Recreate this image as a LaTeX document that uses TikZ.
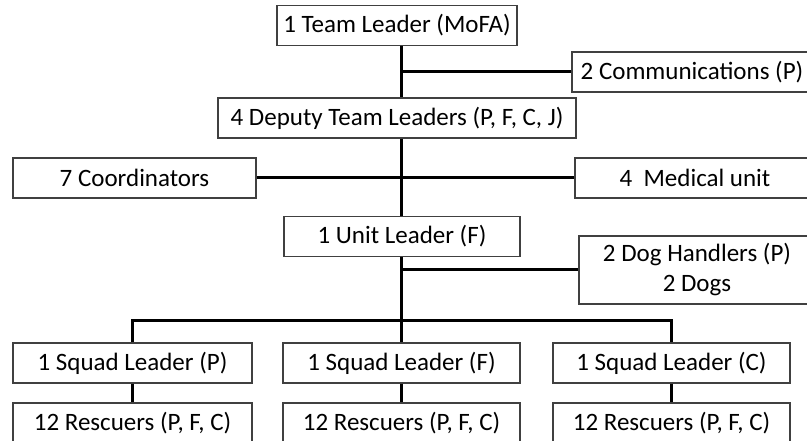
\documentclass[tikz,border=0pt]{standalone}
\usepackage{fontspec}
\setmainfont{Carlito}
\usetikzlibrary{positioning}

\begin{document}
\begin{tikzpicture}[%
    x=1pt,
    y=-1pt,
    box/.style={draw=black!75, line width=1.2pt, fill=white, inner sep=0pt,
      minimum height=40pt, font=\fontsize{25}{30}\selectfont},
    link/.style={line width=3pt},
  ]
  \clip (0,0) rectangle (807,441);

  % top of the chart
  \node[box, minimum width=240pt] (lead)   at (397,25.5) {1 Team Leader (MoFA)};
  \node[box, minimum width=240pt] (comm)   at (692,72)   {2 Communications (P)};
  \node[box, minimum width=358pt] (deputy) at (397,118)  {4 Deputy Team Leaders (P, F, C, J)};
  \node[box, minimum width=243pt] (coord)  at (134.5,178) {7 Coordinators};
  \node[box, minimum width=240pt] (med)    at (695,178)  {4\ \ Medical unit};
  \node[box, minimum width=236pt] (unit)   at (402,236.5) {1 Unit Leader (F)};
  \node[box, minimum width=236pt, minimum height=68pt, align=center] (dog) at (697,270)
    {2 Dog Handlers (P)\\2 Dogs};

  % squads
  \node[box, minimum width=239pt] (sqP) at (132.5,363) {1 Squad Leader (P)};
  \node[box, minimum width=237pt] (sqF) at (401.5,363) {1 Squad Leader (F)};
  \node[box, minimum width=237pt] (sqC) at (671.5,363) {1 Squad Leader (C)};
  \node[box, minimum width=239pt] (resP) at (132.5,423) {12 Rescuers (P, F, C)};
  \node[box, minimum width=237pt] (resF) at (401.5,423) {12 Rescuers (P, F, C)};
  \node[box, minimum width=237pt] (resC) at (671.5,423) {12 Rescuers (P, F, C)};

  \coordinate (spine) at (401,0);
  \coordinate (bus)   at (401,320);

  \draw[link] (lead.south -| spine) -- (deputy.north -| spine);
  \draw[link] (deputy.south -| spine) -- (unit.north -| spine);
  \draw[link] (unit.south -| spine) -- (sqF.north -| spine);
  \draw[link] (spine |- comm) -- (comm.west);
  \draw[link] (coord.east) -- (med.west);
  \draw[link] (spine |- dog) -- (dog.west);
  \draw[link] (sqP.north) |- (bus) -| (sqC.north);
  \draw[link] (sqP) -- (resP);
  \draw[link] (sqF) -- (resF);
  \draw[link] (sqC) -- (resC);
\end{tikzpicture}
\end{document}
